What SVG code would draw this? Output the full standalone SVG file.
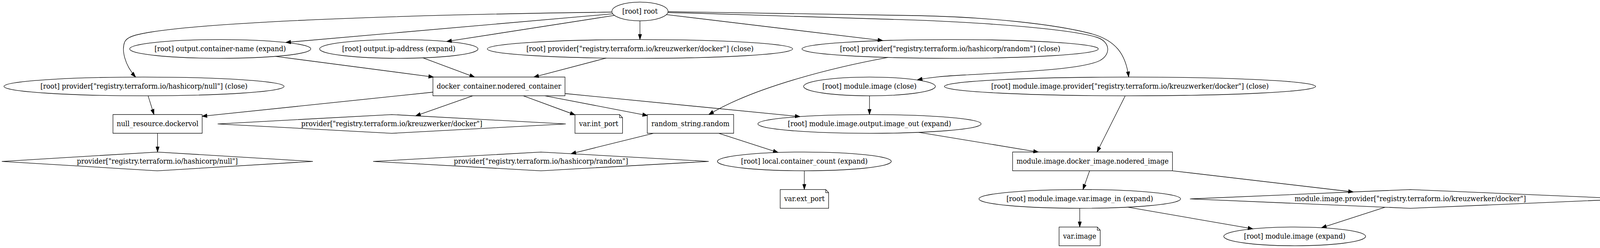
<svg xmlns="http://www.w3.org/2000/svg" width="4535" height="635" viewBox="0 0 4535 635">
<style>
.n ellipse, .n polygon, .n polyline, .n rect { fill: none; stroke: #000; stroke-width: 1.33; }
text { font-family: "DejaVu Serif", "Liberation Serif", serif; font-size: 18.67px; text-anchor: middle; fill: #000; }
#edges path { fill: none; stroke: #000; stroke-width: 1.33; marker-end: url(#ah); }
</style>
<defs>
<marker id="ah" markerUnits="userSpaceOnUse" viewBox="0 0 13.33 9.33" markerWidth="13.33" markerHeight="9.33" refX="13.33" refY="4.67" orient="auto" overflow="visible">
<path d="M0,0 L13.33,4.67 L0,9.33 Z" fill="#000" stroke="#000" stroke-width="1"/>
</marker>
</defs>
<rect width="4535" height="635" fill="#fff"/>
<g id="graph" transform="scale(0.9217,1)">
<g id="edges">
<path id="e_root_cname" d="M1702,35.4 L794,108.6"/>
<path id="e_root_ip" d="M1706.8,39.4 L1240.7,106.2"/>
<path id="e_root_pdocker" d="M1777.5,53.3 L1777.5,101.3"/>
<path id="e_root_prandom" d="M1850.9,37.4 L2451.8,103.8"/>
<path id="e_root_pnull" d="M1699.5,31 C1100,38 600,56 420,82 C372,89 352,95 346,108 C338,128 345,165 376.7,197.3"/>
<path id="e_root_modclose" d="M1855.5,32.3 C2100,37 2350,44 2550,51.7 C2800,61 2990,78 3048,96 C3085,108 3085,140 3055,155 C3000,180 2800,185 2680,192 C2620,195 2590,197 2548,204.5"/>
<path id="e_root_modprov" d="M1855.5,30 C2100,33 2350,36 2550,40 C2750,44 2930,62 3030,86 C3100,103 3127,140 3134.9,197.3"/>
<path id="e_cname_docker" d="M765,144.3 L1204,197.3"/>
<path id="e_ip_docker" d="M1174.7,148.2 L1318,197.3"/>
<path id="e_pdocker_docker" d="M1683.7,148.7 L1482.7,197.3"/>
<path id="e_prandom_random" d="M2466,147.1 C2330,170 2100,220 1968.7,293.3"/>
<path id="e_pnull_null" d="M411.3,245.3 L427.6,293.3"/>
<path id="e_docker_null" d="M1202.5,236 L561.5,297.7"/>
<path id="e_docker_provdocker" d="M1313,245.3 L1154.6,296.6"/>
<path id="e_docker_intport" d="M1453.5,245.3 L1597,294"/>
<path id="e_docker_random" d="M1513.5,245.3 L1798.3,295.8"/>
<path id="e_docker_imageout" d="M1569.3,239.5 L2222,298.5"/>
<path id="e_modclose_imageout" d="M2415,245.3 L2415,293.3"/>
<path id="e_modprov_nodered" d="M3125.3,245.3 L3047,389.3"/>
<path id="e_null_provnull" d="M437.6,341.3 L437.6,389.3"/>
<path id="e_random_provrandom" d="M1815,341.3 L1586,393.6"/>
<path id="e_random_local" d="M1996.5,341.3 L2161,390.4"/>
<path id="e_imageout_nodered" d="M2552,338.8 L2884,389.3"/>
<path id="e_local_extport" d="M2234,437.3 L2234,485.3"/>
<path id="e_nodered_imagein" d="M3026.4,437.3 L3007.8,485.4"/>
<path id="e_nodered_provmod" d="M3256.5,437.3 L3758.7,491.5"/>
<path id="e_imagein_varimage" d="M2999,533.3 L2999,581.3"/>
<path id="e_imagein_modexpand" d="M3132.2,530.4 L3479.7,585.9"/>
<path id="e_provmod_modexpand" d="M3846.8,530.6 L3670.6,583.1"/>
</g>

<g id="n_root" class="n"><ellipse cx="1777.5" cy="29.3" rx="78" ry="24"/><text x="1777.5" y="34.8">[root] root</text></g>

<g id="n_out_cname" class="n"><ellipse cx="611.7" cy="125.3" rx="251.5" ry="24"/><text x="611.7" y="130.8">[root] output.container-name (expand)</text></g>
<g id="n_out_ip" class="n"><ellipse cx="1107.7" cy="125.3" rx="220" ry="24"/><text x="1107.7" y="130.8">[root] output.ip-address (expand)</text></g>
<g id="n_prov_docker_close" class="n"><ellipse cx="1777.5" cy="125.3" rx="424" ry="24"/><text x="1777.5" y="130.8">[root] provider["registry.terraform.io/kreuzwerker/docker"] (close)</text></g>
<g id="n_prov_random_close" class="n"><ellipse cx="2639" cy="125.3" rx="411.5" ry="24"/><text x="2639" y="130.8">[root] provider["registry.terraform.io/hashicorp/random"] (close)</text></g>

<g id="n_prov_null_close" class="n"><ellipse cx="400" cy="221.3" rx="389" ry="24"/><text x="400" y="226.8">[root] provider["registry.terraform.io/hashicorp/null"] (close)</text></g>
<g id="n_docker_container" class="n"><rect x="1202.5" y="197.3" width="366.8" height="48"/><text x="1385.9" y="226.8">docker_container.nodered_container</text></g>
<g id="n_module_image_close" class="n"><ellipse cx="2415" cy="221.3" rx="183" ry="24"/><text x="2415" y="226.8">[root] module.image (close)</text></g>
<g id="n_module_prov_close" class="n"><ellipse cx="3138.5" cy="221.3" rx="515.5" ry="24"/><text x="3138.5" y="226.8">[root] module.image.provider["registry.terraform.io/kreuzwerker/docker"] (close)</text></g>

<g id="n_null_resource" class="n"><rect x="313.8" y="293.3" width="247.7" height="48"/><text x="437.6" y="322.8">null_resource.dockervol</text></g>
<g id="n_provider_docker" class="n"><polygon points="1088,293.3 1571.4,317.3 1088,341.3 604.6,317.3"/><text x="1088" y="322.8">provider["registry.terraform.io/kreuzwerker/docker"]</text></g>
<g id="n_var_int_port" class="n"><polygon points="1597,293.3 1721,293.3 1729,301.3 1729,341.3 1597,341.3"/><polyline points="1721,293.3 1721,301.3 1729,301.3"/><text x="1663" y="322.8">var.int_port</text></g>
<g id="n_random_string" class="n"><rect x="1797.8" y="293.3" width="239.9" height="48"/><text x="1917.7" y="322.8">random_string.random</text></g>
<g id="n_image_out" class="n"><ellipse cx="2415" cy="317.3" rx="310" ry="24"/><text x="2415" y="322.8">[root] module.image.output.image_out (expand)</text></g>

<g id="n_provider_null" class="n"><polygon points="437,389.3 869,413.3 437,437.3 5,413.3"/><text x="437" y="418.8">provider["registry.terraform.io/hashicorp/null"]</text></g>
<g id="n_provider_random" class="n"><polygon points="1502.4,389.3 1968.4,413.3 1502.4,437.3 1036.4,413.3"/><text x="1502.4" y="418.8">provider["registry.terraform.io/hashicorp/random"]</text></g>
<g id="n_local_count" class="n"><ellipse cx="2234" cy="413.3" rx="241.5" ry="24"/><text x="2234" y="418.8">[root] local.container_count (expand)</text></g>
<g id="n_nodered_image" class="n"><rect x="2812.5" y="389.3" width="444" height="48"/><text x="3034.5" y="418.8">module.image.docker_image.nodered_image</text></g>

<g id="n_var_ext_port" class="n"><polygon points="2167,485.3 2293.5,485.3 2301.5,493.3 2301.5,533.3 2167,533.3"/><polyline points="2293.5,485.3 2293.5,493.3 2301.5,493.3"/><text x="2234.2" y="514.8">var.ext_port</text></g>
<g id="n_image_in" class="n"><ellipse cx="2999" cy="509.3" rx="280" ry="24"/><text x="2999" y="514.8">[root] module.image.var.image_in (expand)</text></g>
<g id="n_provider_module" class="n"><polygon points="3917,485.3 4529,509.3 3917,533.3 3305,509.3"/><text x="3917" y="514.8">module.image.provider["registry.terraform.io/kreuzwerker/docker"]</text></g>

<g id="n_var_image" class="n"><polygon points="2941.6,581.3 3047.8,581.3 3055.8,589.3 3055.8,629.3 2941.6,629.3"/><polyline points="3047.8,581.3 3047.8,589.3 3055.8,589.3"/><text x="2998.7" y="610.8">var.image</text></g>
<g id="n_module_image_expand" class="n"><ellipse cx="3596" cy="605.3" rx="197" ry="24"/><text x="3596" y="610.8">[root] module.image (expand)</text></g>
</g>
</svg>
